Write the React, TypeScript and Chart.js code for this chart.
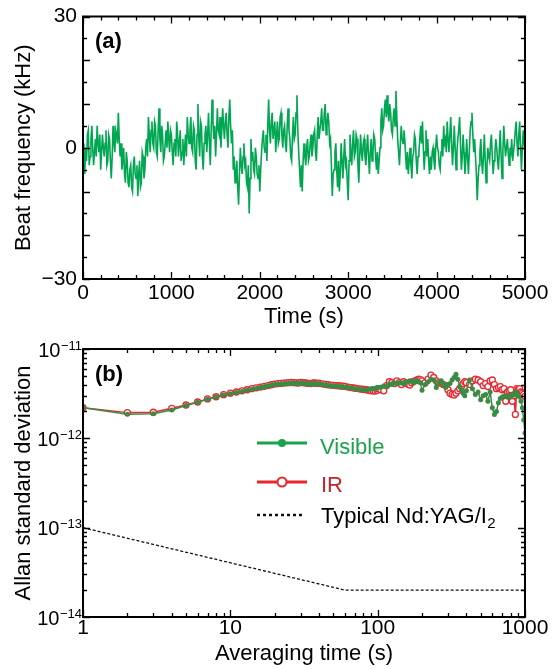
import React, { useEffect, useRef } from 'react';
import { Chart, registerables } from 'chart.js';

Chart.register(...registerables);

// ---------- Panel (a): beat frequency time series ----------
const SAMPLE_INTERVAL_S = 10;
const BEAT_FREQ_KHZ = [
  1, -3, -6, 0, -3, 3, 4, -4, -2, 2, 5, 0, -4, -1, 2, -2, 5, 1, -1, 3,
  -5, -1, 3, 0, -2, 1, 4, -4, -3, 3, 2, -3, -7, -2, 5, 1, -1, 4, 3, 1,
  8, 2, -2, 1, -5, -3, 0, -6, -8, -1, -3, -8, -9, -5, -4, -9, -10, -4, -2, -6,
  -7, -4, -11, -6, -3, -9, -8, -1, -2, -7, -5, 0, 2, -2, 7, 3, -1, 4, 6, 1,
  0, 6, 5, -1, -2, 4, 9, 2, -1, 5, 3, -3, -2, 1, 4, 0, 6, 2, -1, 4,
  3, -1, -4, 1, 2, -2, 6, 3, -2, 1, 4, -3, -1, 2, -4, 0, 3, -2, 7, 3,
  1, 4, 7, 0, -1, 5, 4, -3, -5, 3, 10, 2, -2, 6, 5, -2, -5, 1, 3, 5,
  -1, 3, 8, 1, -4, 4, 11, 6, 2, 5, -2, 3, 9, 4, 3, 7, 0, 4, 9, 5,
  2, 6, 8, 3, 0, 7, 11, 5, 1, 4, -5, -2, -8, -6, -3, -9, -13, -6, 0, -4,
  -6, -2, 1, -4, -3, -8, -9, -4, -15, -7, 2, -3, -1, -5, -6, 0, -2, -6, -7, -4,
  -10, -5, -1, 2, 4, 0, -1, 3, -3, 5, 11, 4, 1, 6, 8, 2, 2, 6, -1, 3,
  6, 1, 2, 7, 8, 3, 0, 4, 5, 1, -1, 5, 9, 4, 2, -2, -3, 3, 7, 2,
  3, 8, 12, 4, -1, -5, -9, -4, -10, -3, 1, -2, -4, 0, 2, -3, -2, 1, 3, -2,
  0, 3, 4, -1, -3, 3, 7, 2, 2, 6, 9, 4, 4, 8, 10, 3, 5, 8, 6, 1,
  2, -4, -11, -6, -5, -1, 1, -5, -9, -3, -10, -6, 1, -3, -7, -2, 2, -4, -3, -8,
  -12, -3, 3, -1, -4, 1, 4, -2, -1, 3, 2, -4, -8, -2, 3, -1, -3, 1, 2, -2,
  -4, 0, 3, -2, -6, -1, 2, -3, -1, 3, 2, -2, -5, -1, -6, -3, 0, 6, 9, 4,
  5, 9, 11, 7, 12, 8, 6, 10, 8, 4, 3, 7, 9, 5, 13, 7, 2, -1, -4, 1,
  5, 2, 1, 4, 2, -2, -5, -1, -6, -3, 0, -4, -7, -2, -1, 3, 2, -3, -6, -2,
  -1, 2, 5, 1, 6, 0, -5, -1, 4, -2, 2, -3, -6, -2, -5, -1, 0, -3, -5, 0,
  3, 0, -1, -4, -5, -1, 2, -2, 5, 1, 2, -1, 6, 2, -1, 3, 7, 1, -4, 0,
  5, 0, -5, -1, 2, 4, 7, 1, -5, -2, 3, -1, -6, -3, 2, -2, -6, -1, 4, 6,
  8, 3, -1, 2, -2, -6, -12, -7, -4, -1, 2, -3, -6, -2, 3, -3, -8, -4, 0, -2,
  -3, 1, 3, -2, -6, -3, -1, 2, 0, -3, -5, 0, 4, -2, -7, -1, 5, 1, -2, 0,
  2, -1, -4, 0, -1, 2, -3, -1, 1, 4, 6, 1, -2, 3, 6, 0, -5, 0, 4, 1,
  -1,
];
const TIME_TICKS = [0, 1000, 2000, 3000, 4000, 5000];
const TIME_MINOR_TICKS = [200, 400, 600, 800, 1200, 1400, 1600, 1800, 2200, 2400, 2600, 2800, 3200, 3400, 3600, 3800, 4200, 4400, 4600, 4800];
const FREQ_LABEL_TICKS = [-30, 0, 30];
const FREQ_MAJOR_TICKS = [-30, -20, -10, 0, 10, 20, 30];
const FREQ_MINOR_TICKS = [-25, -15, -5, 5, 15, 25];

// ---------- Panel (b): Allan deviation ----------
const TAU_S = [
  1, 2, 3, 4, 5, 6, 7, 8, 9, 10, 11, 12, 13, 14, 15, 16, 17, 18, 19,
  20, 21, 22, 23, 24, 25, 26, 27, 28, 29, 30, 31, 32, 33, 34, 35, 36, 37, 38, 39, 40,
  42, 44, 46, 48, 50, 52, 54, 56, 58, 60,
  63, 66, 69, 72, 75, 78, 81, 84, 87, 90, 93, 96, 99,
  100, 105, 110, 115, 120, 125, 130, 135, 140, 145, 150, 155, 160, 165, 170, 175, 180, 185, 190, 195,
  200, 210, 220, 230, 240, 250, 260, 270, 280, 290, 300, 310, 320, 330, 340, 350, 360, 370, 380, 390,
  400, 420, 440, 460, 480, 500, 520, 540, 560, 580, 600, 620, 640, 660, 680, 700, 720, 740, 760, 780,
  800, 820, 840, 860, 880, 900, 920, 940, 960, 980,
  1000,
];
// values in units of 1e-12
const VISIBLE_E12 = [
  2.2, 1.86, 1.88, 2.08, 2.33, 2.53, 2.74, 2.9, 3.05, 3.15, 3.25, 3.35, 3.45, 3.55, 3.62, 3.7, 3.78, 3.85, 3.92,
  4.0, 4.02, 4.05, 4.08, 4.1, 4.12, 4.15, 4.13, 4.1, 4.12, 4.15, 4.13, 4.1, 4.08, 4.05, 4.02, 4.06, 4.1, 4.08, 4.05, 4.1,
  4.0, 3.95, 3.9, 3.88, 3.85, 3.82, 3.8, 3.78, 3.77, 3.75,
  3.7, 3.66, 3.6, 3.58, 3.52, 3.5, 3.48, 3.5, 3.55, 3.6, 3.62, 3.6, 3.68,
  3.7, 3.72, 3.85, 3.8, 4.05, 4.0, 4.15, 4.1, 4.2, 4.15, 4.1, 4.25, 4.3, 4.4, 4.35, 4.2, 4.3, 4.45, 4.3, 4.2,
  3.45, 4.0, 4.3, 4.6, 4.5, 3.7, 4.2, 4.4, 4.0, 3.7, 4.0, 4.1, 4.5, 4.8, 5.2, 4.6, 3.8, 3.5, 3.2, 3.0,
  3.4, 4.5, 3.6, 3.1, 3.3, 2.7, 3.0, 3.1, 2.6, 3.3, 2.2, 1.85, 2.0, 2.5, 2.8, 2.9, 2.95, 3.0, 2.9, 2.95,
  2.9, 3.1, 3.05, 3.3, 3.2, 3.0, 2.9, 2.6, 2.2, 1.6,
  1.15,
];
const IR_E12 = [
  2.2, 1.94, 1.96, 2.17, 2.36, 2.55, 2.76, 2.92, 3.08, 3.2, 3.3, 3.4, 3.5, 3.6, 3.68, 3.75, 3.82, 3.9, 3.98,
  4.05, 4.1, 4.12, 4.15, 4.18, 4.2, 4.22, 4.2, 4.18, 4.15, 4.22, 4.2, 4.18, 4.15, 4.12, 4.1, 4.15, 4.18, 4.15, 4.12, 4.15,
  4.08, 4.02, 3.98, 3.95, 3.92, 3.9, 3.88, 3.86, 3.84, 3.82,
  3.75, 3.7, 3.66, 3.62, 3.58, 3.55, 3.52, 3.5, 3.45, 3.42, 3.4, 3.38, 3.45,
  3.6, 3.5, 3.4, 3.9, 4.3, 4.2, 4.1, 4.4, 4.2, 4.0, 4.3, 4.15, 4.05, 3.95, 4.2, 4.35, 4.4, 4.5, 4.6, 4.55,
  4.4, 4.2, 4.6, 5.1, 4.8, 4.4, 4.2, 4.1, 4.0, 3.9, 3.5, 3.2, 3.1, 3.05, 3.2, 3.4, 3.6, 3.8, 4.1, 4.3,
  4.2, 4.0, 4.4, 4.6, 4.5, 4.3, 3.9, 4.1, 3.8, 4.4, 4.5, 4.0, 3.6, 3.7, 3.8, 3.5, 3.6, 2.6, 3.3, 3.4,
  3.5, 2.6, 3.0, 1.85, 3.6, 3.5, 3.6, 3.3, 3.2, 3.1,
  2.95,
];
const NDYAG_TAU_S = [1, 60, 1000];
const NDYAG_VALUES = [1e-13, 2e-14, 2e-14];
const TAU_TICKS = [1, 10, 100, 1000];
const ALLAN_DECADES = [-11, -12, -13, -14];

const FONT = 'Arial, "Liberation Sans", Helvetica, sans-serif';
const GREEN_A = '#00A651';
const GREEN_DOTS = '#3B8B45';
const GREEN_LEGEND = '#1AA34A';
const RED = '#E8262E';
const RED_TEXT = '#C4242F';

function drawFrame(chart: any, xMaj: number[], xMin: number[], yMaj: number[], yMin: number[]) {
  const { ctx, chartArea, scales } = chart;
  const { left, right, top, bottom } = chartArea;
  const xs = scales.x;
  const ys = scales.y;
  ctx.save();
  ctx.strokeStyle = '#000';
  ctx.lineWidth = 1.3;
  ctx.beginPath();
  const xt = (vals: number[], len: number) => {
    vals.forEach((v) => {
      const px = Math.round(xs.getPixelForValue(v)) + 0.5;
      ctx.moveTo(px, bottom);
      ctx.lineTo(px, bottom - len);
      ctx.moveTo(px, top);
      ctx.lineTo(px, top + len);
    });
  };
  const yt = (vals: number[], len: number) => {
    vals.forEach((v) => {
      const py = Math.round(ys.getPixelForValue(v)) + 0.5;
      ctx.moveTo(left, py);
      ctx.lineTo(left + len, py);
      ctx.moveTo(right, py);
      ctx.lineTo(right - len, py);
    });
  };
  xt(xMaj, 7);
  xt(xMin, 4);
  yt(yMaj, 7);
  yt(yMin, 4);
  ctx.stroke();
  ctx.lineWidth = 2;
  ctx.strokeRect(left, top, right - left, bottom - top);
  ctx.restore();
}

function PanelA() {
  const ref = useRef<HTMLCanvasElement | null>(null);
  useEffect(() => {
    if (!ref.current) return;
    const points = BEAT_FREQ_KHZ.map((v, i) => ({ x: i * SAMPLE_INTERVAL_S, y: v }));
    const framePlugin = {
      id: 'frameA',
      afterDraw(chart: any) {
        drawFrame(chart, TIME_TICKS, TIME_MINOR_TICKS, FREQ_MAJOR_TICKS, FREQ_MINOR_TICKS);
        const { ctx, chartArea } = chart;
        ctx.save();
        ctx.fillStyle = '#000';
        ctx.font = `bold 22px ${FONT}`;
        ctx.textBaseline = 'alphabetic';
        ctx.textAlign = 'left';
        ctx.fillText('(a)', chartArea.left + 12, chartArea.top + 31);
        ctx.restore();
      },
    };
    const chart = new Chart(ref.current, {
      type: 'line',
      data: {
        datasets: [
          {
            label: 'Beat frequency',
            data: points,
            borderColor: GREEN_A,
            borderWidth: 1.6,
            pointRadius: 0,
            tension: 0,
          },
        ],
      },
      options: {
        responsive: false,
        animation: false,
        layout: { padding: { top: 11, right: 28, left: 0, bottom: 0 } },
        plugins: { legend: { display: false }, tooltip: { enabled: false } },
        scales: {
          x: {
            type: 'linear',
            min: 0,
            max: 5000,
            grid: { display: false, drawTicks: false },
            border: { display: false },
            ticks: {
              font: { family: FONT, size: 21, lineHeight: 1 },
              color: '#000',
              padding: 4,
              maxRotation: 0,
              autoSkip: false,
              callback: (v: any) => String(v),
            },
            afterBuildTicks: (s: any) => {
              s.ticks = TIME_TICKS.map((v) => ({ value: v }));
            },
            afterFit: (s: any) => {
              s.height = 51;
            },
            title: {
              display: true,
              text: 'Time (s)',
              color: '#000',
              font: { family: FONT, size: 22, lineHeight: 1 },
              padding: { top: 0, bottom: 2 },
            },
          },
          y: {
            type: 'linear',
            min: -30,
            max: 30,
            grid: { display: false, drawTicks: false },
            border: { display: false },
            ticks: {
              font: { family: FONT, size: 21, lineHeight: 1 },
              color: '#000',
              padding: 6,
              autoSkip: false,
              callback: (v: any) => (v < 0 ? '\u2212' + Math.abs(v) : String(v)),
            },
            afterBuildTicks: (s: any) => {
              s.ticks = FREQ_LABEL_TICKS.map((v) => ({ value: v }));
            },
            afterFit: (s: any) => {
              s.width = 83;
            },
            title: {
              display: true,
              text: 'Beat frequency (kHz)',
              color: '#000',
              font: { family: FONT, size: 22, lineHeight: 1 },
              padding: { top: 13, bottom: 0 },
            },
          },
        },
      } as any,
      plugins: [framePlugin],
    });
    return () => chart.destroy();
  }, []);
  return <canvas ref={ref} width={553} height={330} style={{ display: 'block', width: 553, height: 330 }} />;
}

function PanelB() {
  const ref = useRef<HTMLCanvasElement | null>(null);
  useEffect(() => {
    if (!ref.current) return;
    const xMinor: number[] = [];
    [1, 10, 100].forEach((d) => {
      for (let k = 2; k <= 9; k++) xMinor.push(d * k);
    });
    const yMajor = ALLAN_DECADES.map((e) => Math.pow(10, e));
    const yMinor: number[] = [];
    [-14, -13, -12].forEach((e) => {
      for (let k = 2; k <= 9; k++) yMinor.push(k * Math.pow(10, e));
    });
    const framePlugin = {
      id: 'frameB',
      afterDraw(chart: any) {
        drawFrame(chart, TAU_TICKS, xMinor, yMajor, yMinor);
        const { ctx, chartArea, scales } = chart;
        ctx.save();
        ctx.fillStyle = '#000';
        // y tick labels with superscript exponents
        ALLAN_DECADES.forEach((e) => {
          const py = scales.y.getPixelForValue(Math.pow(10, e));
          const exp = '\u2212' + Math.abs(e);
          ctx.textAlign = 'right';
          ctx.textBaseline = 'alphabetic';
          ctx.font = `13px ${FONT}`;
          const xr = chartArea.left - 1;
          ctx.fillText(exp, xr, py + 0.5);
          const w = ctx.measureText(exp).width;
          ctx.font = `20px ${FONT}`;
          ctx.fillText('10', xr - w - 0.5, py + 7.5);
        });
        // panel label
        ctx.font = `bold 22px ${FONT}`;
        ctx.textAlign = 'left';
        ctx.fillText('(b)', chartArea.left + 12, chartArea.top + 32);
        // legend
        const lx0 = 257;
        const lx1 = 307;
        const mx = 282;
        const tx = 320;
        const rows = [113, 152, 185];
        ctx.lineWidth = 3;
        ctx.strokeStyle = GREEN_LEGEND;
        ctx.beginPath();
        ctx.moveTo(lx0, rows[0]);
        ctx.lineTo(lx1, rows[0]);
        ctx.stroke();
        ctx.fillStyle = GREEN_LEGEND;
        ctx.beginPath();
        ctx.arc(mx, rows[0], 4, 0, Math.PI * 2);
        ctx.fill();
        ctx.font = `22px ${FONT}`;
        ctx.fillText('Visible', tx, rows[0] + 11);

        ctx.strokeStyle = RED;
        ctx.beginPath();
        ctx.moveTo(lx0, rows[1]);
        ctx.lineTo(lx1, rows[1]);
        ctx.stroke();
        ctx.fillStyle = '#fff';
        ctx.lineWidth = 2;
        ctx.beginPath();
        ctx.arc(mx, rows[1], 4.5, 0, Math.PI * 2);
        ctx.fill();
        ctx.stroke();
        ctx.fillStyle = RED_TEXT;
        ctx.fillText('IR', tx + 1, rows[1] + 10);

        ctx.strokeStyle = '#111';
        ctx.lineWidth = 2.5;
        ctx.setLineDash([3, 3]);
        ctx.beginPath();
        ctx.moveTo(lx0, rows[2]);
        ctx.lineTo(lx1 - 3, rows[2]);
        ctx.stroke();
        ctx.setLineDash([]);
        ctx.fillStyle = '#000';
        const main = 'Typical Nd:YAG/I';
        ctx.fillText(main, tx + 1, rows[2] + 8);
        const mw = ctx.measureText(main).width;
        ctx.font = `15px ${FONT}`;
        ctx.fillText('2', tx + 1 + mw + 0.5, rows[2] + 13);
        ctx.restore();
      },
    };
    const chart = new Chart(ref.current, {
      type: 'line',
      data: {
        datasets: [
          {
            label: 'Visible',
            data: TAU_S.map((t, i) => ({ x: t, y: VISIBLE_E12[i] * 1e-12 })),
            borderColor: GREEN_DOTS,
            backgroundColor: GREEN_DOTS,
            borderWidth: 1.5,
            pointRadius: 2.5,
            pointBorderWidth: 0,
            pointBackgroundColor: GREEN_DOTS,
            tension: 0,
            order: 0,
          },
          {
            label: 'IR',
            data: TAU_S.map((t, i) => ({ x: t, y: IR_E12[i] * 1e-12 })),
            borderColor: RED,
            borderWidth: 1.5,
            pointRadius: 3,
            pointBorderWidth: 1.3,
            pointBorderColor: RED,
            pointBackgroundColor: '#fff',
            tension: 0,
            order: 1,
          },
          {
            label: 'Typical Nd:YAG/I2',
            data: NDYAG_TAU_S.map((t, i) => ({ x: t, y: NDYAG_VALUES[i] })),
            borderColor: '#111',
            borderWidth: 1.3,
            borderDash: [3, 2],
            pointRadius: 0,
            tension: 0,
            order: 2,
          },
        ],
      },
      options: {
        responsive: false,
        animation: false,
        layout: { padding: { top: 19, right: 28, left: 0, bottom: 0 } },
        plugins: { legend: { display: false }, tooltip: { enabled: false } },
        scales: {
          x: {
            type: 'logarithmic',
            min: 1,
            max: 1000,
            grid: { display: false, drawTicks: false },
            border: { display: false },
            ticks: {
              font: { family: FONT, size: 21, lineHeight: 1 },
              color: '#000',
              padding: 1,
              maxRotation: 0,
              autoSkip: false,
              callback: (v: any) => String(v),
            },
            afterBuildTicks: (s: any) => {
              s.ticks = TAU_TICKS.map((v) => ({ value: v }));
            },
            afterFit: (s: any) => {
              s.height = 52;
            },
            title: {
              display: true,
              text: 'Averaging time (s)',
              color: '#000',
              font: { family: FONT, size: 22, lineHeight: 1 },
              padding: { top: 0, bottom: 4 },
            },
          },
          y: {
            type: 'logarithmic',
            min: 1e-14,
            max: 1e-11,
            grid: { display: false, drawTicks: false },
            border: { display: false },
            ticks: { display: false },
            afterFit: (s: any) => {
              s.width = 83;
            },
            title: {
              display: true,
              text: 'Allan standard deviation',
              color: '#000',
              font: { family: FONT, size: 22, lineHeight: 1 },
              padding: { top: 13, bottom: 0 },
            },
          },
        },
      } as any,
      plugins: [framePlugin],
    });
    return () => chart.destroy();
  }, []);
  return <canvas ref={ref} width={553} height={339} style={{ display: 'block', width: 553, height: 339 }} />;
}

export default function App() {
  return (
    <div style={{ position: 'absolute', left: 0, top: 0, width: 553, height: 669, background: '#fff' }}>
      <PanelA />
      <PanelB />
    </div>
  );
}
